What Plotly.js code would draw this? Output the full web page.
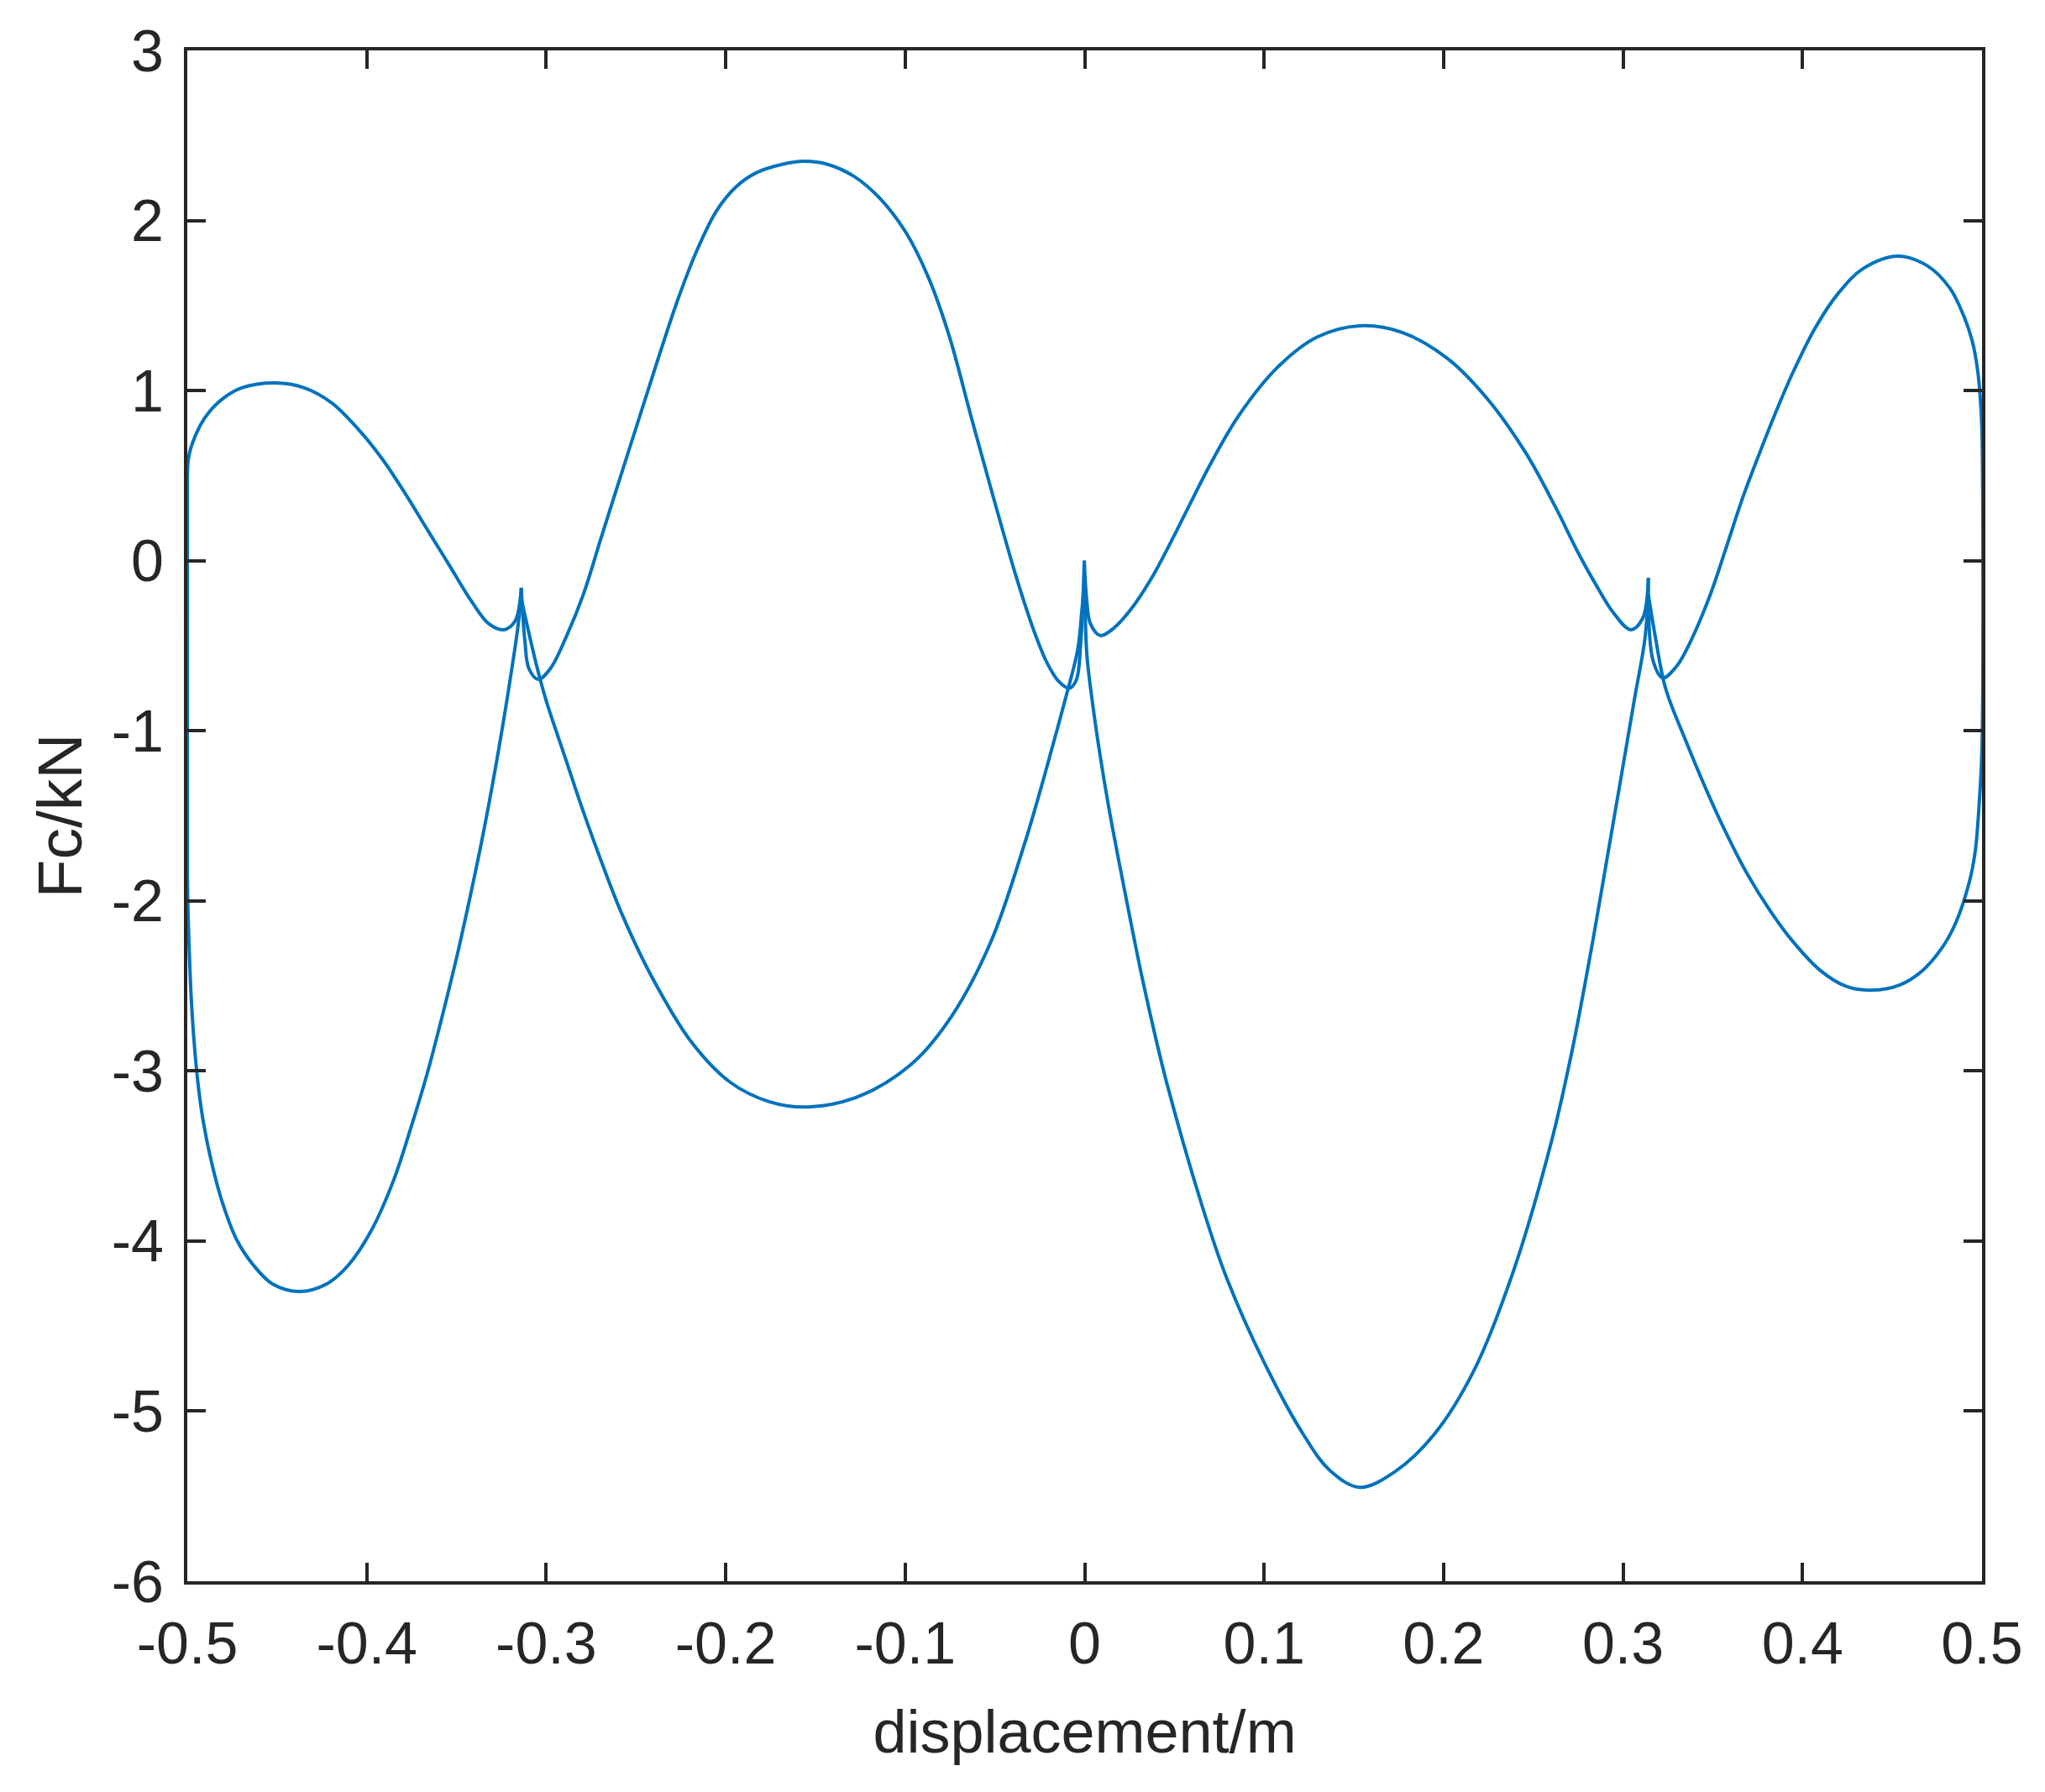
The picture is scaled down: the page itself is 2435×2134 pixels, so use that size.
<!DOCTYPE html>
<html>
<head>
<meta charset="utf-8">
<script src="https://cdn.plot.ly/plotly-3.0.1.min.js"></script>
<style>
  html, body { margin: 0; padding: 0; background: #fff; }
  #loop { width: 2435px; height: 2134px; }
</style>
</head>
<body>
<div id="loop"></div>
<script>
// upper branch, left to right (displacement m, force kN)
var xUp = [-0.5, -0.4994, -0.4975, -0.4928, -0.4882, -0.4803, -0.4694, -0.4507, -0.4351, -0.4195,
  -0.4039, -0.3914, -0.3789, -0.3665, -0.354, -0.3415, -0.3321, -0.3236, -0.3174, -0.3139,
  -0.3119, -0.3096, -0.3044, -0.2978, -0.2885, -0.2791, -0.2698, -0.2594, -0.2485, -0.2376,
  -0.2267, -0.2158, -0.2049, -0.194, -0.1831, -0.1686, -0.1563, -0.1432, -0.1286, -0.1141,
  -0.0996, -0.0872, -0.0756, -0.0632, -0.0509, -0.0392, -0.0335, -0.0273, -0.021, -0.0147,
  -0.0085, -0.0046, -0.0023, -0.0002, 0.0012, 0.0032, 0.0087, 0.0165, 0.0258, 0.0367,
  0.0476, 0.0586, 0.07, 0.0858, 0.1076, 0.1294, 0.1533, 0.1766, 0.202, 0.2238,
  0.2456, 0.262, 0.2754, 0.2847, 0.2941, 0.3043, 0.3109, 0.3141, 0.3167, 0.3222,
  0.3299, 0.3378, 0.3483, 0.3573, 0.3666, 0.376, 0.3853, 0.3947, 0.4072, 0.4197,
  0.4337, 0.4532, 0.4696, 0.4821, 0.4899, 0.4946, 0.4977, 0.4993, 0.5];
var fUp = [0.433, 0.598, 0.68, 0.795, 0.869, 0.952, 1.017, 1.045, 1.017, 0.927,
  0.763, 0.598, 0.4, 0.187, -0.027, -0.241, -0.37, -0.406, -0.356, -0.159,
  -0.471, -0.636, -0.698, -0.636, -0.439, -0.192, 0.121, 0.468, 0.829, 1.189,
  1.534, 1.83, 2.06, 2.2, 2.28, 2.33, 2.348, 2.33, 2.26, 2.13,
  1.93, 1.669, 1.326, 0.844, 0.374, -0.058, -0.25, -0.44, -0.6, -0.707,
  -0.75, -0.7, -0.502, 0.0, -0.238, -0.37, -0.44, -0.394, -0.286, -0.113,
  0.1, 0.331, 0.566, 0.852, 1.138, 1.314, 1.381, 1.343, 1.19, 0.959,
  0.637, 0.322, 0.038, -0.138, -0.299, -0.406, -0.34, -0.101, -0.587, -0.689,
  -0.62, -0.471, -0.208, 0.072, 0.368, 0.631, 0.878, 1.108, 1.371, 1.569,
  1.717, 1.791, 1.733, 1.602, 1.437, 1.289, 1.108, 0.911, 0.75];

// lower branch, left to right
var xDown = [-0.5, -0.4994, -0.4975, -0.4944, -0.4913, -0.4866, -0.4803, -0.4725, -0.4632, -0.4523,
  -0.4374, -0.4226, -0.4102, -0.3977, -0.3852, -0.3759, -0.3665, -0.3587, -0.3509, -0.347,
  -0.3361, -0.3283, -0.3205, -0.3158, -0.314, -0.3057, -0.3002, -0.2893, -0.2815, -0.2706,
  -0.2581, -0.2413, -0.2195, -0.1977, -0.1759, -0.154, -0.125, -0.0959, -0.0741, -0.0523,
  -0.0335, -0.0241, -0.0163, -0.0109, -0.0039, -0.0016, 0.0, 0.0012, 0.004, 0.0087,
  0.0133, 0.0196, 0.0258, 0.0321, 0.0398, 0.0461, 0.064, 0.0785, 0.1003, 0.1221,
  0.1366, 0.1533, 0.173, 0.1948, 0.2166, 0.2384, 0.2602, 0.272, 0.2832, 0.291,
  0.2988, 0.3066, 0.3121, 0.3141, 0.318, 0.3237, 0.3346, 0.3455, 0.3565, 0.369,
  0.3822, 0.3947, 0.4103, 0.4244, 0.4384, 0.454, 0.4665, 0.4774, 0.4852, 0.493,
  0.4962, 0.4986, 0.5];
var fDown = [-1.8, -2.133, -2.627, -3.038, -3.285, -3.532, -3.778, -3.992, -4.141, -4.254,
  -4.297, -4.254, -4.141, -3.943, -3.647, -3.351, -3.022, -2.709, -2.377, -2.198,
  -1.657, -1.219, -0.726, -0.39, -0.22, -0.603, -0.817, -1.162, -1.409, -1.731,
  -2.071, -2.444, -2.824, -3.065, -3.18, -3.212, -3.146, -2.954, -2.678, -2.242,
  -1.665, -1.328, -1.03, -0.819, -0.525, -0.3, -0.1, -0.547, -0.806, -1.151,
  -1.443, -1.796, -2.129, -2.455, -2.816, -3.085, -3.744, -4.2, -4.72, -5.141,
  -5.348, -5.448, -5.355, -5.136, -4.768, -4.192, -3.41, -2.86, -2.232, -1.756,
  -1.279, -0.799, -0.465, -0.2, -0.45, -0.751, -1.05, -1.326, -1.581, -1.838,
  -2.062, -2.24, -2.413, -2.503, -2.525, -2.495, -2.413, -2.281, -2.133, -1.886,
  -1.71, -1.4, -1.1];

// x positions of the sharp tips (upper spikes and lower cusps)
var tipX = [-0.3139, -0.0002, 0.3141, -0.314, 0.0];

var xTickVals = [-0.5, -0.4, -0.3, -0.2, -0.1, 0, 0.1, 0.2, 0.3, 0.4, 0.5];
var xTickText = ['-0.5', '-0.4', '-0.3', '-0.2', '-0.1', '0', '0.1', '0.2', '0.3', '0.4', '0.5'];
var yTickVals = [-6, -5, -4, -3, -2, -1, 0, 1, 2, 3];
var yTickText = ['-6', '-5', '-4', '-3', '-2', '-1', '0', '1', '2', '3'];

// closed loop: upper branch left->right, then lower branch back right->left
var loopX = xUp.concat(xDown.slice().reverse(), [xUp[0]]);
var loopF = fUp.concat(fDown.slice().reverse(), [fUp[0]]);

// cut the loop at the tips so each smooth piece keeps a sharp point at its ends
var pieces = [];
var cur = { x: [], y: [] };
for (var i = 0; i < loopX.length; i++) {
  cur.x.push(loopX[i]);
  cur.y.push(loopF[i]);
  if (tipX.indexOf(loopX[i]) !== -1 && i > 0 && i < loopX.length - 1) {
    pieces.push(cur);
    cur = { x: [loopX[i]], y: [loopF[i]] };
  }
}
pieces.push(cur);

var data = pieces.map(function (p) {
  return {
    x: p.x,
    y: p.y,
    type: 'scatter',
    mode: 'lines',
    line: { color: '#0072BD', width: 4, shape: 'spline', smoothing: 1 },
    hoverinfo: 'skip',
    showlegend: false
  };
});

var axisColor = '#262626';
var fontFam = "'Liberation Sans', Arial, Helvetica, sans-serif";

var layout = {
  width: 2435,
  height: 2134,
  margin: { l: 223, r: 75, t: 60, b: 251 },
  paper_bgcolor: '#fff',
  plot_bgcolor: '#fff',
  showlegend: false,
  font: { family: fontFam, color: axisColor, size: 70 },
  xaxis: {
    range: [-0.5, 0.5],
    tickmode: 'array',
    tickvals: xTickVals,
    ticktext: xTickText,
    ticks: 'inside',
    ticklen: 22,
    tickwidth: 4,
    tickcolor: axisColor,
    ticklabelstandoff: 10,
    showline: true,
    linecolor: axisColor,
    linewidth: 4,
    mirror: 'ticks',
    showgrid: false,
    zeroline: false,
    tickfont: { size: 70, color: axisColor },
    title: { text: 'displacement/m', font: { size: 72, color: axisColor }, standoff: 43 }
  },
  yaxis: {
    range: [-6, 3],
    tickmode: 'array',
    tickvals: yTickVals,
    ticktext: yTickText,
    ticks: 'inside',
    ticklen: 22,
    tickwidth: 4,
    tickcolor: axisColor,
    ticklabelstandoff: 10,
    showline: true,
    linecolor: axisColor,
    linewidth: 4,
    mirror: 'ticks',
    showgrid: false,
    zeroline: false,
    tickfont: { size: 70, color: axisColor },
    title: { text: 'Fc/kN', font: { size: 75, color: axisColor }, standoff: 12 }
  }
};

Plotly.newPlot('loop', data, layout, { staticPlot: true });
</script>
</body>
</html>
